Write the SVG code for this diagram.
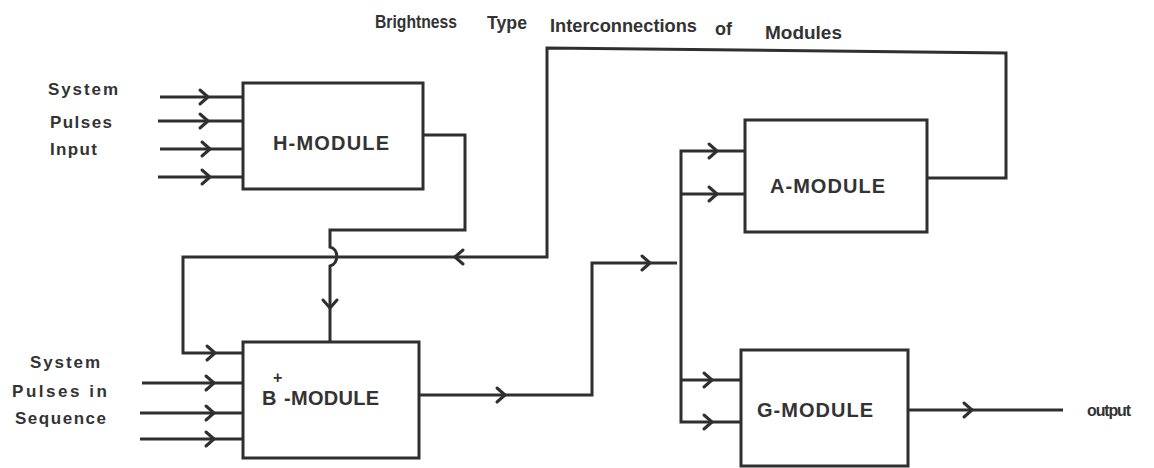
<svg xmlns="http://www.w3.org/2000/svg" xmlns:xlink="http://www.w3.org/1999/xlink" width="1154" height="468" viewBox="0 0 1154 468">
<style>
.box{fill:none;stroke:#2f2f2f;stroke-width:3}
.wire{fill:none;stroke:#2f2f2f;stroke-width:3;stroke-linejoin:miter}
.chev{fill:none;stroke:#2f2f2f;stroke-width:3;stroke-linecap:round;stroke-linejoin:round}
.lbl{font-family:"Liberation Sans",Arial,sans-serif;font-weight:bold;fill:#333}
.mod{font-family:"Liberation Sans",Arial,sans-serif;font-weight:bold;font-size:20px;fill:#333}
</style>
<defs>
<path id="chev" class="chev" d="M-8,-7 L0,0 L-8,7"/>
</defs>
<rect width="1154" height="468" fill="#fff"/>
<g id="title" class="lbl" font-size="18">
<text x="375" y="28" textLength="82" lengthAdjust="spacingAndGlyphs">Brightness</text>
<text x="487" y="29" textLength="40" lengthAdjust="spacingAndGlyphs">Type</text>
<text x="550" y="32" textLength="147" lengthAdjust="spacingAndGlyphs">Interconnections</text>
<text x="715" y="35">of</text>
<text x="765" y="39" textLength="77" lengthAdjust="spacingAndGlyphs">Modules</text>
</g>
<g id="labels-h" class="lbl" font-size="17">
<text x="48" y="95" textLength="70">System</text>
<text x="50" y="128" textLength="62">Pulses</text>
<text x="50" y="155" textLength="47">Input</text>
</g>
<g id="labels-b" class="lbl" font-size="17">
<text x="30" y="368" textLength="70">System</text>
<text x="12" y="397" textLength="95">Pulses  in</text>
<text x="15" y="424" textLength="91">Sequence</text>
</g>
<g id="h-module">
<rect class="box" x="243" y="83" width="180" height="106"/>
<text class="mod" x="273" y="150" textLength="116">H-MODULE</text>
</g>
<g id="b-module">
<rect class="box" x="243" y="342" width="176" height="116"/>
<text class="mod"><tspan x="262" y="405">B</tspan><tspan x="273" y="383" font-size="16">+</tspan><tspan x="284" y="405" textLength="95">-MODULE</tspan></text>
</g>
<g id="a-module">
<rect class="box" x="745" y="120" width="182" height="112"/>
<text class="mod" x="770" y="193" textLength="115">A-MODULE</text>
</g>
<g id="g-module">
<rect class="box" x="741" y="350" width="167" height="116"/>
<text class="mod" x="757" y="417" textLength="116">G-MODULE</text>
</g>
<g id="output-label">
<text class="lbl" x="1087" y="416" font-size="16" textLength="44">output</text>
</g>
<g id="connectors">
<path class="wire" d="M160,97 H243 M158,121 H243 M160,149 H243 M158,177 H243"/>
<use xlink:href="#chev" transform="translate(208,97)"/>
<use xlink:href="#chev" transform="translate(208,121)"/>
<use xlink:href="#chev" transform="translate(210,149)"/>
<use xlink:href="#chev" transform="translate(210,177)"/>
<path class="wire" d="M142,383 H243 M140,413 H243 M140,439 H243"/>
<use xlink:href="#chev" transform="translate(214,383)"/>
<use xlink:href="#chev" transform="translate(214,413)"/>
<use xlink:href="#chev" transform="translate(214,439)"/>
<path class="wire" d="M423,135 H465 V230 H330 V247 C339,249 339,263 330,266 V342"/>
<use xlink:href="#chev" transform="translate(330,308) rotate(90)"/>
<path class="wire" d="M927,178 H1006 V53 L547,48 V257 H183 V353 H243"/>
<use xlink:href="#chev" transform="translate(455,257) rotate(180)"/>
<use xlink:href="#chev" transform="translate(215,353)"/>
<path class="wire" d="M419,395 H592 V263 H677"/>
<use xlink:href="#chev" transform="translate(505,395)"/>
<use xlink:href="#chev" transform="translate(650,263)"/>
<path class="wire" d="M745,151 H681 V422 H741 M681,194 H745 M681,380 H741"/>
<use xlink:href="#chev" transform="translate(717,151)"/>
<use xlink:href="#chev" transform="translate(717,194)"/>
<use xlink:href="#chev" transform="translate(712,380)"/>
<use xlink:href="#chev" transform="translate(712,422)"/>
<path class="wire" d="M908,410 H1063"/>
<use xlink:href="#chev" transform="translate(972,410)"/>
</g>
</svg>
